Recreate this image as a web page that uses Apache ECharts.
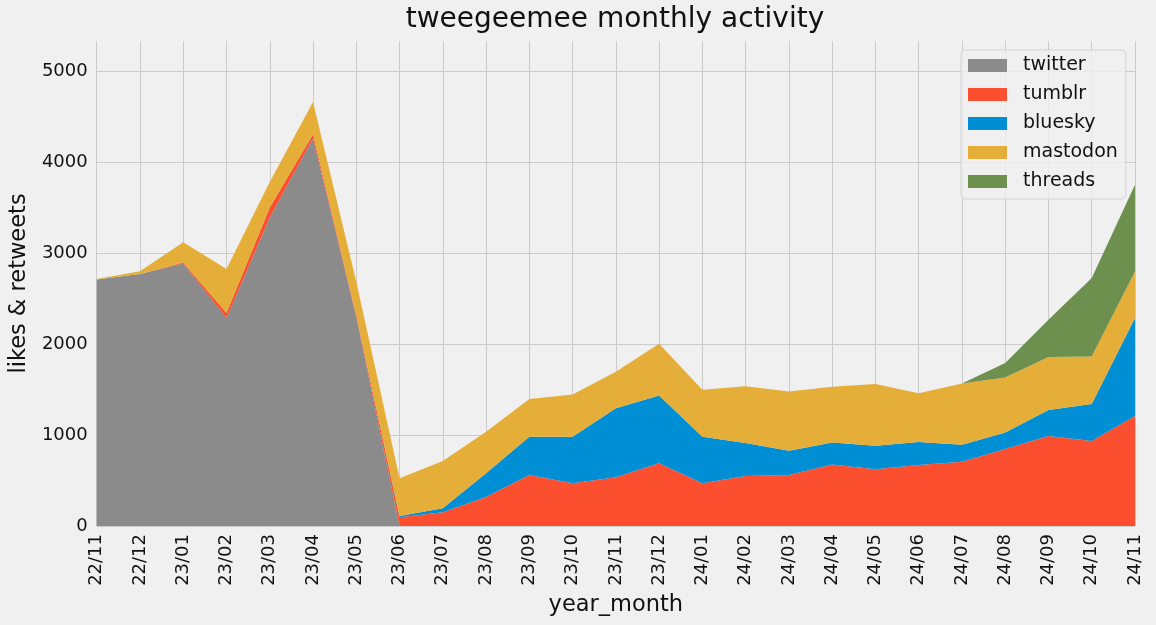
<!DOCTYPE html>
<html>
<head>
<meta charset="utf-8">
<script src="https://cdn.jsdelivr.net/npm/echarts@6/dist/echarts.min.js"></script>
<style>
html,body{margin:0;padding:0;background:#f0f0f0;}
#chart{width:1156px;height:625px;}
</style>
</head>
<body>
<div id="chart"></div>
<script>
// months on the x axis
var months = ['22/11','22/12','23/01','23/02','23/03','23/04','23/05','23/06','23/07','23/08','23/09','23/10','23/11',
	'23/12','24/01','24/02','24/03','24/04','24/05','24/06','24/07','24/08','24/09','24/10','24/11'];

// likes & retweets per network
var twitter  = [2710,2770,2885,2285,3390,4260,2300,0,0,0,0,0,0,0,0,0,0,0,0,0,0,0,0,0,0];
var tumblr   = [0,0,10,55,110,45,15,96,150,320,560,470,535,690,470,550,560,675,625,670,705,845,990,935,1210];
var bluesky  = [0,0,0,0,0,0,0,14,45,260,421,512,758,743,512,363,267,242,256,253,187,183,286,407,1075];
var mastodon = [5,30,222,484,280,356,370,415,520,457,415,462,403,569,514,624,650,613,679,536,675,605,580,521,513];
var threads  = [0,0,0,0,0,0,0,0,0,0,0,0,0,0,0,0,0,0,0,0,0,158,410,862,953];

var yTicks = [0,1000,2000,3000,4000,5000];

var names  = ['twitter','tumblr','bluesky','mastodon','threads'];
var colors = ['#8b8b8b','#fc4f30','#008fd5','#e5ae38','#6d904f'];
var values = [twitter,tumblr,bluesky,mastodon,threads];

var chart = echarts.init(document.getElementById('chart'));

var series = [];
for (var i = 0; i < names.length; i++) {
	series.push({
		name: names[i],
		type: 'line',
		stack: 'total',
		data: values[i],
		symbol: 'none',
		showSymbol: false,
		lineStyle: {width: 0, color: colors[i]},
		itemStyle: {color: colors[i]},
		areaStyle: {color: colors[i], opacity: 1}
	});
}

var font = 'DejaVu Sans';

chart.setOption({
	backgroundColor: '#f0f0f0',
	animation: false,
	title: {
		text: 'tweegeemee monthly activity',
		left: 615,
		textAlign: 'center',
		top: 6,
		padding: 0,
		textStyle: {fontFamily: font, fontSize: 28, fontWeight: 'normal', color: '#111'}
	},
	legend: {
		data: names,
		orient: 'vertical',
		left: 961,
		top: 50,
		icon: 'rect',
		itemWidth: 39,
		itemHeight: 13,
		itemGap: 10,
		selectedMode: false,
		padding: [6, 8, 8, 7],
		backgroundColor: 'rgba(240,240,240,0.8)',
		borderColor: 'rgba(204,204,204,0.8)',
		borderWidth: 1,
		borderRadius: 4,
		textStyle: {fontFamily: font, fontSize: 19, lineHeight: 19, color: '#111', padding: [0, 0, 0, 11]}
	},
	grid: {left: 95, right: 21, top: 41, bottom: 99, containLabel: false},
	xAxis: {
		type: 'category',
		data: months,
		boundaryGap: false,
		name: 'year_month',
		nameLocation: 'middle',
		nameGap: 65,
		nameTextStyle: {fontFamily: font, fontSize: 22.5, color: '#111'},
		axisLine: {show: false},
		axisTick: {show: false},
		axisLabel: {rotate: 90, margin: 8, interval: 0, fontFamily: font, fontSize: 18, color: '#111'},
		splitLine: {show: true, interval: 0, lineStyle: {color: '#cbcbcb', width: 1}}
	},
	yAxis: {
		type: 'value',
		min: 0,
		max: 5330,
		interval: 1000,
		name: 'likes & retweets',
		nameLocation: 'middle',
		nameGap: 64,
		nameTextStyle: {fontFamily: font, fontSize: 22.5, color: '#111'},
		axisLine: {show: false},
		axisTick: {show: false},
		axisLabel: {
			margin: 9,
			fontFamily: font,
			fontSize: 18,
			color: '#111',
			showMaxLabel: false,
			formatter: function (v) { return yTicks.indexOf(v) >= 0 ? String(v) : ''; }
		},
		splitLine: {show: true, showMaxLine: false, lineStyle: {color: '#cbcbcb', width: 1}}
	},
	series: series
});
</script>
</body>
</html>
